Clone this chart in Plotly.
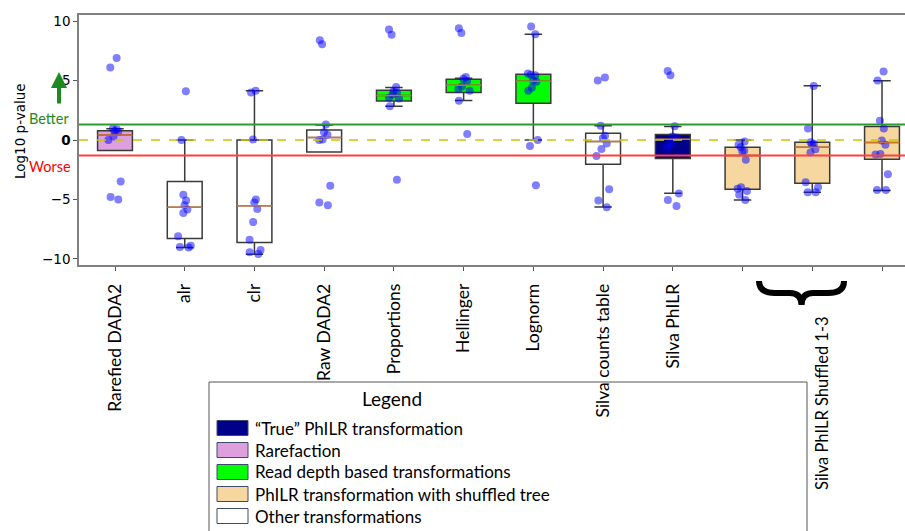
import plotly.graph_objects as go

# ---------------- data ----------------
categories = ["Rarefied DADA2", "alr", "clr", "Raw DADA2", "Proportions", "Hellinger",
              "Lognorm", "Silva counts table", "Silva PhILR",
              "Silva PhILR Shuffled 1", "Silva PhILR Shuffled 2", "Silva PhILR Shuffled 3"]
tick_labels = ["Rarefied DADA2", "alr", "clr", "Raw DADA2", "Proportions", "Hellinger",
               "Lognorm", "Silva counts table", "Silva PhILR", "", "", ""]
group_label = "Silva PhILR Shuffled 1-3"

q1 = [-0.89, -8.29, -8.63, -1.0, 3.29, 4.0, 3.1, -2.04, -1.56, -4.14, -3.63, -1.62]
median = [0.43, -5.65, -5.54, 0.21, 3.74, 4.61, 4.95, -0.13, 0.07, -1.3, -0.6, -0.21]
q3 = [0.77, -3.49, 0.0, 0.85, 4.19, 5.11, 5.54, 0.57, 0.46, -0.6, -0.18, 1.13]
lower_whisker = [-0.89, -9.05, -9.61, -1.0, 2.84, 3.32, 0.0, -5.63, -4.48, -5.06, -4.39, -4.25]
upper_whisker = [0.94, 0.0, 4.15, 1.27, 4.41, 5.2, 8.9, 1.19, 1.13, 0.0, 4.56, 4.98]

points = [
    [6.9, 6.1, 0.95, 0.9, 0.75, 0.7, 0.3, 0.0, -3.5, -4.8, -5.0],
    [4.1, 0.0, -4.6, -5.1, -5.5, -5.85, -6.15, -8.1, -8.9, -9.0, -9.05],
    [4.15, 4.0, 0.05, -5.0, -5.25, -5.8, -6.9, -8.4, -9.25, -9.45, -9.6],
    [8.4, 8.05, 1.3, 0.65, 0.45, 0.05, 0.0, -3.85, -5.25, -5.5],
    [9.3, 8.85, 4.45, 4.1, 3.95, 3.8, 3.55, 3.5, 2.85, -3.35],
    [9.4, 9.0, 5.3, 5.15, 4.95, 4.5, 4.3, 4.15, 3.3, 0.5],
    [9.55, 8.9, 5.6, 5.5, 5.45, 5.0, 4.9, 4.4, 4.15, 0.0, -0.5, -3.8],
    [5.25, 5.0, 1.2, 0.35, 0.15, -0.3, -0.75, -1.35, -4.15, -5.1, -5.65],
    [5.8, 5.45, 1.15, 0.3, 0.2, -0.25, -0.6, -4.5, -5.05, -5.55],
    [-0.12, -0.4, -0.6, -0.9, -0.97, -1.67, -3.97, -4.11, -4.3, -4.6, -5.06],
    [4.55, 0.97, -0.19, -0.32, -0.4, -0.77, -1.05, -3.55, -3.97, -4.39, -4.39],
    [5.76, 5.0, 1.61, 0.97, -0.04, -0.41, -1.17, -1.22, -2.88, -4.2, -4.2],
]

groups = ["rare", "other", "other", "other", "depth", "depth", "depth", "other", "true",
          "shuffled", "shuffled", "shuffled"]
legend_keys = ["true", "rare", "depth", "shuffled", "other"]
legend_labels = ["\u201cTrue\u201d PhILR transformation", "Rarefaction",
                 "Read depth based transformations", "PhILR transformation with shuffled tree",
                 "Other transformations"]
group_colors = {"true": "#00008B", "rare": "#DDA0DD", "depth": "#00FF00",
                "shuffled": "#F6D7A0", "other": "#FFFFFF"}

significance = 1.301  # -log10(0.05)
y_ticks = [-10, -5, 0, 5, 10]
y_tick_text = ["\u221210", "\u22125", "<b>0</b>", "5", "10"]

# ---------------- layout helpers (pixel -> paper) ----------------
W, H = 905, 531
L, R, T, B = 79, 905, 15, 265


def px(x):
    return (x - L) / (R - L)


def py(y):
    return (B - y) / (B - T)


BOX_W = 0.5
fig = go.Figure()
xs = list(range(1, len(categories) + 1))

for i, cat in enumerate(categories):
    fig.add_trace(go.Box(
        x=[xs[i]], q1=[q1[i]], median=[median[i]], q3=[q3[i]],
        lowerfence=[lower_whisker[i]], upperfence=[upper_whisker[i]],
        fillcolor=group_colors[groups[i]], line=dict(color="#3a3a3a", width=1.5),
        width=BOX_W, whiskerwidth=0.5, boxpoints=False, showlegend=False, name=cat))

for i, cat in enumerate(categories):
    fig.add_trace(go.Scatter(
        x=[xs[i] - BOX_W / 2, xs[i] + BOX_W / 2], y=[median[i], median[i]],
        mode="lines", line=dict(color="rgba(255,140,40,0.75)", width=1.5),
        showlegend=False, hoverinfo="skip"))

for i, cat in enumerate(categories):
    fig.add_trace(go.Box(
        x=[xs[i]] * len(points[i]), y=points[i], boxpoints="all", jitter=0.45, pointpos=0,
        fillcolor="rgba(0,0,0,0)", line=dict(width=0, color="rgba(0,0,0,0)"),
        marker=dict(color="rgba(0,0,255,0.5)", size=8, line=dict(width=0)),
        width=BOX_W, showlegend=False, name=cat + " points"))

ann = []
# y title
ann.append(dict(x=px(20), y=py(131), xref="paper", yref="paper", text="Log10 p-value",
                textangle=-90, showarrow=False, xanchor="center", yanchor="middle",
                font=dict(family="DejaVu Sans", size=13.5, color="black")))
# better / worse
ann.append(dict(x=px(59), y=py(72), xref="paper", yref="paper", ax=0, ay=33, text="",
                showarrow=True, arrowhead=2, arrowsize=0.8, arrowwidth=4, arrowcolor="#1e8a1e"))
ann.append(dict(x=px(49), y=py(118), xref="paper", yref="paper", text="Better",
                showarrow=False, xanchor="center", yanchor="middle",
                font=dict(family="Lato", size=14.5, color="#1e8a1e")))
ann.append(dict(x=px(50), y=py(166), xref="paper", yref="paper", text="Worse",
                showarrow=False, xanchor="center", yanchor="middle",
                font=dict(family="Lato", size=14.5, color="#ff0000")))
# group label
ann.append(dict(x=px(822), y=py(403), xref="paper", yref="paper", text=group_label,
                textangle=-90, showarrow=False, xanchor="center", yanchor="middle",
                font=dict(family="Lato", size=16.5, color="black")))

shapes = []
# curly bracket grouping the three shuffled-tree categories
bx0, bx1, btop, bmid, btip = 759, 844, 281, 293, 305
bc = (bx0 + bx1) / 2


def P(x, y):
    return f"{px(x):.5f},{py(y):.5f}"


brace_path = ("M " + P(bx0, btop) + " Q " + P(bx0, bmid) + " " + P(bx0 + 16, bmid) +
              " L " + P(bc - 12, bmid) + " Q " + P(bc, bmid) + " " + P(bc, btip) +
              " Q " + P(bc, bmid) + " " + P(bc + 12, bmid) +
              " L " + P(bx1 - 16, bmid) + " Q " + P(bx1, bmid) + " " + P(bx1, btop))
shapes.append(dict(type="path", xref="paper", yref="paper", path=brace_path,
                   line=dict(color="black", width=6), layer="above"))

# legend box (outline only; tick labels show through as in the original)
shapes.append(dict(type="rect", xref="paper", yref="paper", x0=px(209), x1=px(807),
                   y0=py(382), y1=py(560), line=dict(color="#555555", width=1),
                   fillcolor="rgba(0,0,0,0)", layer="above"))
ann.append(dict(x=px(392), y=py(398), xref="paper", yref="paper", text="Legend",
                showarrow=False, xanchor="center", yanchor="middle",
                font=dict(family="Lato", size=19, color="black")))
row_y = [428, 450, 472, 494, 516]
for k, key in enumerate(legend_keys):
    shapes.append(dict(type="rect", xref="paper", yref="paper", x0=px(217), x1=px(248),
                       y0=py(row_y[k] + 7.5), y1=py(row_y[k] - 7.5),
                       fillcolor=group_colors[key], line=dict(color="#3d4a6b", width=1),
                       layer="above"))
    ann.append(dict(x=px(253), y=py(row_y[k]), xref="paper", yref="paper",
                    text=legend_labels[k], showarrow=False, xanchor="left", yanchor="middle",
                    font=dict(family="Lato", size=17, color="black")))

fig.update_layout(
    width=W, height=H, margin=dict(l=L, r=W - R, t=T, b=H - B),
    paper_bgcolor="white", plot_bgcolor="white", boxmode="overlay",
    showlegend=False, annotations=ann, shapes=shapes,
    xaxis=dict(range=[1 - 36 / 69.73, 12 + 23 / 69.73], tickvals=xs, ticktext=tick_labels,
               tickangle=-90, ticks="outside", ticklen=4, tickcolor="#555",
               ticklabelstandoff=6,
               showline=True, linecolor="#808080", linewidth=1.5, mirror=True,
               showgrid=False, zeroline=False,
               tickfont=dict(family="Lato", size=17.5, color="black")),
    yaxis=dict(range=[-10.52, 10.52], tickvals=y_ticks, ticktext=y_tick_text,
               ticks="outside", ticklen=4, tickcolor="#555",
               showline=True, linecolor="#808080", linewidth=1.5, mirror=False,
               showgrid=False, zeroline=False,
               tickfont=dict(family="DejaVu Sans", size=13.5, color="black")),
)

# reference lines (added after the layout shapes so they are appended, not merged)
fig.add_hline(y=significance, line=dict(color="#2e9a2e", width=2))
fig.add_hline(y=-significance, line=dict(color="#ff4040", width=2))
fig.add_hline(y=0, line=dict(color="#c8c800", width=1.5, dash="dash"))

fig.write_html("out.html")
